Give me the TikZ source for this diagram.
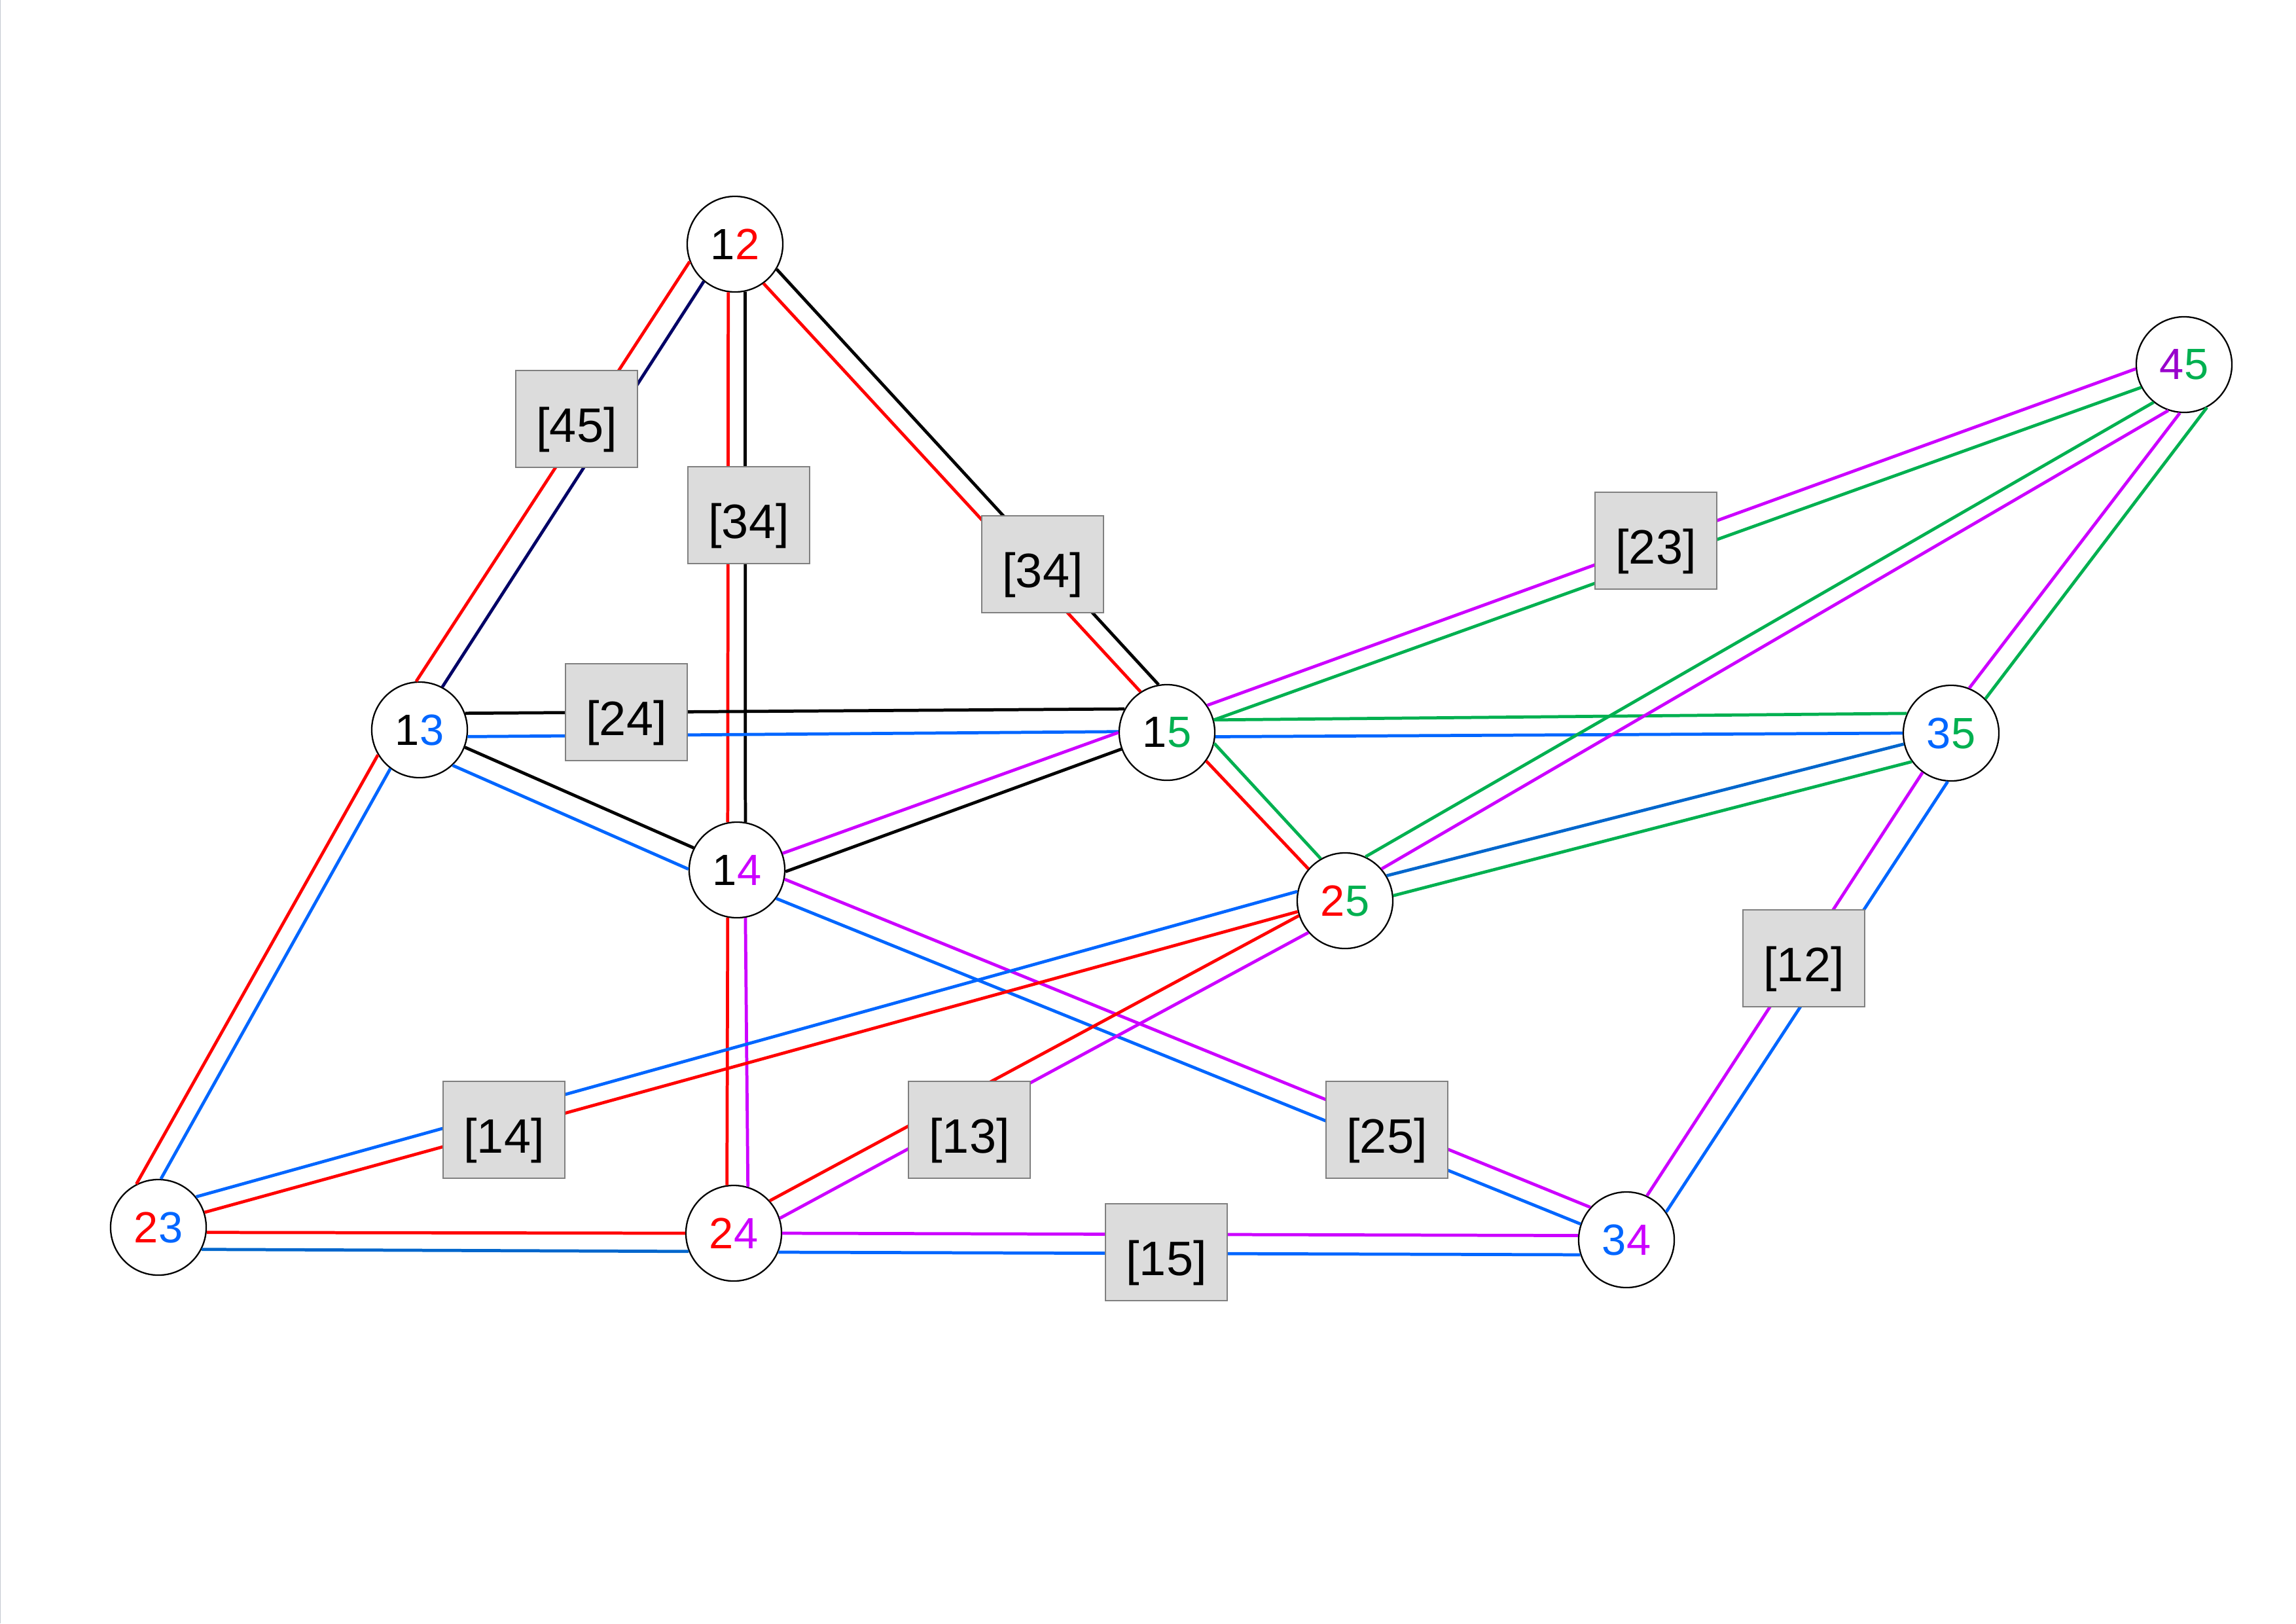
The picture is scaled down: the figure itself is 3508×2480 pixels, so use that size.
\documentclass[tikz,border=0pt]{standalone}
\usepackage{fontspec}
\setmainfont{Liberation Sans}
\definecolor{cred}{HTML}{FF0000}
\definecolor{cblue}{HTML}{0066FF}
\definecolor{cdblue}{HTML}{0066CC}
\definecolor{cmag}{HTML}{CC00FF}
\definecolor{cpurple}{HTML}{9900CC}
\definecolor{cgreen}{HTML}{00B050}
\definecolor{cnavy}{HTML}{000066}
\definecolor{boxfill}{HTML}{DCDCDC}
\definecolor{boxgray}{HTML}{808080}
\definecolor{edgegray}{HTML}{C4C8D0}
\begin{document}
\begin{tikzpicture}[x=0.01cm,y=-0.01cm,
  vtx/.style={circle,draw=black,line width=0.65pt,fill=white,minimum size=1.46cm,inner sep=0pt,font=\fontsize{19}{19}\selectfont},
  lbl/.style={rectangle,draw=boxgray,fill=boxfill,line width=0.6pt,minimum width=1.86cm,minimum height=1.48cm,inner sep=0pt,text height=0.85cm,text depth=0.15cm,font=\fontsize{21}{21}\selectfont},
  ln/.style={line width=1.35pt}]
\useasboundingbox (0,0) rectangle (3508,2480);
\fill[edgegray] (0,0) rectangle (1.5,2480);
% vertices
\node[vtx] (n12) at (1123,373) {1\textcolor{cred}{2}};
\node[vtx] (n45) at (3337,557) {\textcolor{cpurple}{4}\textcolor{cgreen}{5}};
\node[vtx] (n13) at (641,1115) {1\textcolor{cblue}{3}};
\node[vtx] (n15) at (1783,1119) {1\textcolor{cgreen}{5}};
\node[vtx] (n35) at (2981,1120) {\textcolor{cblue}{3}\textcolor{cgreen}{5}};
\node[vtx] (n14) at (1126,1329) {1\textcolor{cmag}{4}};
\node[vtx] (n25) at (2055,1376) {\textcolor{cred}{2}\textcolor{cgreen}{5}};
\node[vtx] (n23) at (242,1875) {\textcolor{cred}{2}\textcolor{cblue}{3}};
\node[vtx] (n24) at (1121,1884) {\textcolor{cred}{2}\textcolor{cmag}{4}};
\node[vtx] (n34) at (2485,1894) {\textcolor{cblue}{3}\textcolor{cmag}{4}};
% connectors
\draw[ln,cred] (n12.201) -- (n13.94);
\draw[ln,cnavy] (n12.230) -- (n13.62);
\draw[ln,cred] (n12.262) -- (n14.101);
\draw[ln,black] (n12.282) -- (n14.80);
\draw[ln,cred] (n12.306) -- (n15.123);
\draw[ln,black] (n12.329) -- (n15.100);
\draw[ln,black] (n13.20) -- (n15.151);
\draw[ln,cblue] (n13.352) -- (n15.179);
\draw[ln,black] (n13.339) -- (n14.153);
\draw[ln,cblue] (n13.313) -- (n14.179);
\draw[ln,cred] (n13.211) -- (n23.117);
\draw[ln,cblue] (n13.233) -- (n23.87);
\draw[ln,cmag] (n14.20) -- (n15.180);
\draw[ln,black] (n14.358) -- (n15.200);
\draw[ln,cred] (n14.259) -- (n24.98);
\draw[ln,cmag] (n14.280) -- (n24.73);
\draw[ln,cmag] (n14.349) -- (n34.138);
\draw[ln,cblue] (n14.324) -- (n34.161);
\draw[ln,cred] (n15.324) -- (n25.139);
\draw[ln,cgreen] (n15.347) -- (n25.120);
\draw[ln,cgreen] (n15.15) -- (n35.156);
\draw[ln,cblue] (n15.355) -- (n35.180);
\draw[ln,cmag] (n15.34) -- (n45.185);
\draw[ln,cgreen] (n15.15) -- (n45.208);
\draw[ln,cgreen] (n25.65) -- (n45.231);
\draw[ln,cmag] (n25.41) -- (n45.251);
\draw[ln,cdblue] (n25.31) -- (n35.193);
\draw[ln,cgreen] (n25.6) -- (n35.216);
\draw[ln,cblue] (n25.169) -- (n23.39);
\draw[ln,cred] (n25.193) -- (n23.18);
\draw[ln,cred] (n25.198) -- (n24.42);
\draw[ln,cmag] (n25.221) -- (n24.18);
\draw[ln,cred] (n23.354) -- (n24.180);
\draw[ln,cdblue] (n23.333) -- (n24.202);
\draw[ln,cmag] (n24.0) -- (n34.175);
\draw[ln,cblue] (n24.337) -- (n34.198);
\draw[ln,cmag] (n34.65) -- (n35.234);
\draw[ln,cblue] (n34.35) -- (n35.266);
\draw[ln,cmag] (n35.68) -- (n45.265);
\draw[ln,cgreen] (n35.45) -- (n45.298);
% label boxes
\node[lbl] (b45) at (881,640) {[45]};
\node[lbl] (b34a) at (1144,787) {[34]};
\node[lbl] (b34b) at (1593,862) {[34]};
\node[lbl] (b23) at (2530,826) {[23]};
\node[lbl] (b24) at (957,1088) {[24]};
\node[lbl] (b12) at (2756,1464) {[12]};
\node[lbl] (b14) at (770,1726) {[14]};
\node[lbl] (b13) at (1481,1726) {[13]};
\node[lbl] (b25) at (2119,1726) {[25]};
\node[lbl] (b15) at (1782,1913) {[15]};
\end{tikzpicture}
\end{document}
